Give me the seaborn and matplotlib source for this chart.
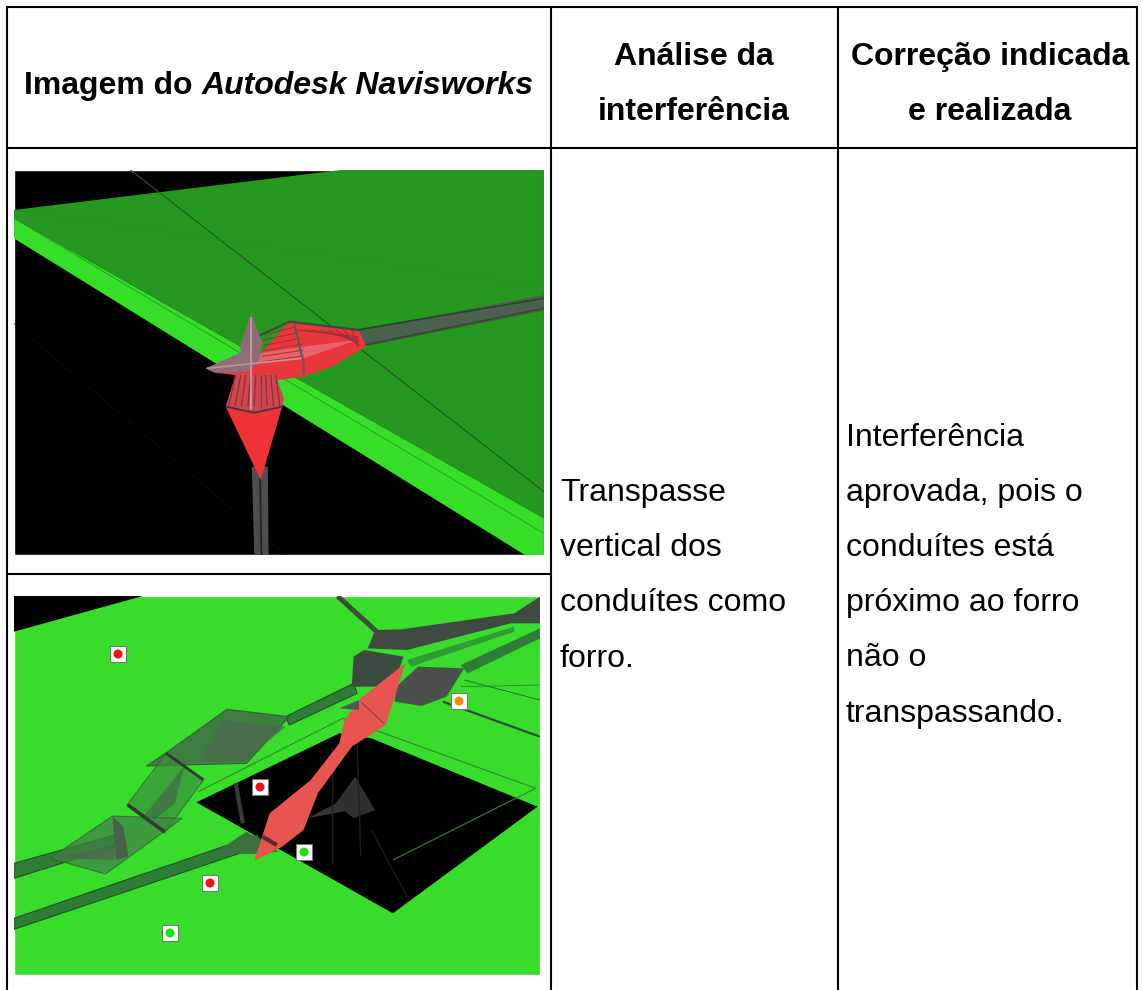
import numpy as np
import pandas as pd
import seaborn as sns
import matplotlib.pyplot as plt
from matplotlib.patches import Polygon, Rectangle

# textos da tabela
head_1 = ["Imagem do ", "Autodesk Navisworks"]
head_2 = ["Análise da", "interferência"]
head_3 = ["Correção indicada", "e realizada"]
col_2 = ["Transpasse", "vertical dos", "conduítes como", "forro."]
col_3 = ["Interferência", "aprovada, pois o", "conduítes está", "próximo ao forro", "não o", "transpassando."]

# marcadores da segunda imagem (pixels)
mark_x = [118, 260, 459, 304, 210, 170]
mark_y = [654, 787, 701, 852, 883, 933]
mark_cor = ["#f01010", "#f01010", "#f58a10", "#18e018", "#f01010", "#18e018"]

sns.set_theme(style="white")
plt.rcParams['font.family'] = ['Liberation Sans', 'DejaVu Sans']

fig = plt.figure(figsize=(11.43, 9.90), dpi=100)
ax = fig.add_axes([0, 0, 1, 1])
ax.set_xlim(0, 1143)
ax.set_ylim(990, 0)
ax.axis('off')

BOX_1 = (14, 170, 530, 385)
BOX_2 = (14, 596, 526, 379)


def pol(pts, cor, y0, box, alpha=1, z=2, ec='none', lw=0):
    xy = [(p[0] / 2.8, p[1] / 3 + y0) for p in pts]
    p = Polygon(xy, closed=True, fc=cor, ec=ec, lw=lw, alpha=alpha, zorder=z)
    ax.add_patch(p)
    p.set_clip_path(Rectangle(box[:2], box[2], box[3], transform=ax.transData))


def lin(pts, cor, y0, box, lw=1, alpha=1, z=3):
    l, = ax.plot([p[0] / 2.8 for p in pts], [p[1] / 3 + y0 for p in pts], color=cor, lw=lw,
                 alpha=alpha, zorder=z, solid_capstyle='butt')
    l.set_clip_path(Rectangle(box[:2], box[2], box[3], transform=ax.transData))


# imagem 1
ax.add_patch(Rectangle(BOX_1[:2], BOX_1[2], BOX_1[3], fc='black', zorder=1))
Y1 = 150
pol([(39, 180), (955, 60), (1523, 60), (1523, 1105), (39, 205)], '#27981f', Y1, BOX_1)
pol([(39, 205), (1523, 1105), (1523, 1215), (1470, 1215), (39, 265)], '#36de2a', Y1, BOX_1)
lin([(365, 60), (1523, 1025)], '#1c5c1c', Y1, BOX_1, 0.8)
lin([(39, 180), (1523, 410)], '#249020', Y1, BOX_1, 0.6)
lin([(39, 205), (1523, 1150)], '#1f9a1b', Y1, BOX_1, 0.6)
lin([(39, 520), (800, 1215)], '#0c120c', Y1, BOX_1, 0.5)
pol([(1000, 540), (1523, 435), (1523, 482), (1020, 590)], '#4d5f4d', Y1, BOX_1)
lin([(1000, 540), (1523, 445)], '#1f4a22', Y1, BOX_1, 1.2)
lin([(1020, 585), (1523, 475)], '#2a4f2a', Y1, BOX_1, 1.2)
pol([(705, 950), (750, 950), (752, 1215), (712, 1215)], '#4c4f4f', Y1, BOX_1, z=3)
lin([(728, 960), (732, 1215)], '#222222', Y1, BOX_1, 1.2, z=4)
pol([(720, 625), (810, 515), (1005, 540), (1025, 590), (930, 650), (850, 680), (780, 690), (600, 668), (660, 650)],
    '#e8383e', Y1, BOX_1, z=4)
pol([(720, 610), (850, 590), (1000, 570), (850, 625), (720, 640)], '#e88088', Y1, BOX_1, alpha=0.6, z=4)
for xa, yb in zip(np.arange(830, 990, 22), [560, 565, 570, 575, 580, 585, 590, 590]):
    lin([(xa, 540), (1005, yb)], '#a03038', Y1, BOX_1, 0.7, z=5)
for ya, xb in zip(np.arange(555, 650, 16), [830, 835, 840, 845, 848, 850]):
    lin([(735, ya), (xb, 530 + (ya - 555) * 1.1)], '#a03038', Y1, BOX_1, 0.7, z=5)
lin([(825, 525), (850, 640), (850, 675)], '#555a55', Y1, BOX_1, 1.3, z=6)
lin([(720, 560), (810, 515), (1005, 540)], '#3c4a3c', Y1, BOX_1, 1.6, z=6)
pol([(632, 770), (660, 672), (770, 672), (795, 745), (790, 775), (712, 790)], '#d04650', Y1, BOX_1, z=5)
for xa, xb in zip(np.arange(660, 780, 14), np.arange(640, 800, 18)):
    lin([(xa, 675), (xb, 770)], '#8c3038', Y1, BOX_1, 0.9, z=6)
pol([(632, 770), (712, 788), (790, 770), (730, 990)], '#f03236', Y1, BOX_1, z=5)
lin([(632, 770), (712, 788), (790, 770)], '#403838', Y1, BOX_1, 1.3, z=6)
pol([(703, 490), (735, 580), (722, 645), (680, 645), (672, 590)], '#8d6b72', Y1, BOX_1, z=7)
pol([(575, 655), (680, 605), (725, 640), (690, 665), (600, 668)], '#8a7078', Y1, BOX_1, z=7)
lin([(703, 500), (703, 780)], '#c8a0a8', Y1, BOX_1, 1.2, z=8)
lin([(580, 655), (845, 625)], '#c89098', Y1, BOX_1, 1.2, z=8)

# imagem 2
ax.add_patch(Rectangle(BOX_2[:2], BOX_2[2], BOX_2[3], fc='#38dc2a', zorder=1))
Y2 = 570
pol([(39, 78), (400, 78), (39, 185)], 'black', Y2, BOX_2)
pol([(550, 697), (950, 490), (1040, 505), (1505, 710), (1100, 1030)], 'black', Y2, BOX_2)
verde = '#2f7c36'
pol([(39, 1045), (720, 795), (740, 825), (39, 1078)], verde, Y2, BOX_2, ec='#234f28', lw=0.8)
pol([(39, 880), (340, 790), (350, 820), (39, 925)], verde, Y2, BOX_2, ec='#234f28', lw=0.8)
pol([(800, 440), (990, 340), (1000, 370), (810, 465)], verde, Y2, BOX_2, ec='#234f28', lw=0.8)
pol([(1290, 285), (1512, 175), (1512, 205), (1310, 310)], verde, Y2, BOX_2)
pol([(1140, 270), (1440, 170), (1440, 185), (1150, 290)], '#2f9c36', Y2, BOX_2)
pol([(635, 418), (810, 440), (690, 580), (410, 588), (470, 545)], '#3d6f42', Y2, BOX_2, alpha=0.85, ec='#2c5a30', lw=0.8)
pol([(620, 450), (800, 470), (680, 575), (560, 575)], '#4d6a50', Y2, BOX_2, alpha=0.8)
pol([(465, 550), (570, 630), (460, 790), (355, 705)], '#3c8d40', Y2, BOX_2, alpha=0.7, ec='#2c5a30', lw=0.7)
pol([(515, 590), (490, 700), (430, 750), (405, 735)], '#3f7448', Y2, BOX_2, alpha=0.85)
pol([(315, 738), (510, 745), (350, 870), (295, 912), (140, 865)], '#3f8444', Y2, BOX_2, alpha=0.75, ec='#2c5a30', lw=0.7)
pol([(315, 738), (345, 770), (360, 860), (325, 870)], '#4a5c4c', Y2, BOX_2, alpha=0.9)
pol([(140, 865), (330, 825), (320, 870)], '#4a6a4c', Y2, BOX_2, alpha=0.8)
lin([(465, 550), (570, 630)], '#2c3c30', Y2, BOX_2, 2)
lin([(358, 705), (460, 785)], '#2c3c30', Y2, BOX_2, 2.6)
lin([(555, 665), (960, 445), (1500, 655), (1100, 870)], '#2b8a2a', Y2, BOX_2, 0.8)
lin([(1240, 395), (1512, 500)], '#2f5030', Y2, BOX_2, 1.6)
lin([(1300, 330), (1512, 390)], '#2f6a30', Y2, BOX_2, 0.7)
lin([(1290, 350), (1512, 345)], '#2f8a30', Y2, BOX_2, 0.7)
lin([(945, 78), (1055, 185)], '#3d4a40', Y2, BOX_2, 3.5)
pol([(1050, 180), (1125, 178), (1440, 130), (1512, 80), (1512, 160), (1430, 160), (1140, 240), (1030, 235)], '#3f4a42', Y2, BOX_2)
pol([(990, 260), (1020, 240), (1130, 260), (1100, 350), (985, 350)], '#3c4a40', Y2, BOX_2)
pol([(1110, 350), (1170, 290), (1300, 295), (1250, 380), (1180, 408), (1105, 395)], '#4b504d', Y2, BOX_2)
lin([(660, 640), (680, 760)], '#3a3a3a', Y2, BOX_2, 3)
pol([(860, 745), (960, 690), (1040, 700), (960, 725)], '#333533', Y2, BOX_2, z=2)
pol([(995, 620), (1050, 720), (990, 745), (940, 700)], '#303030', Y2, BOX_2, z=2)
lin([(930, 530), (930, 880)], '#222222', Y2, BOX_2, 1)
lin([(1000, 520), (1010, 860)], '#1e1e1e', Y2, BOX_2, 1)
lin([(1040, 780), (1140, 980)], '#222222', Y2, BOX_2, 0.7)
pol([(600, 850), (690, 785), (780, 845), (720, 852)], '#3b7040', Y2, BOX_2, z=3)
pol([(1135, 280), (1080, 465), (985, 530), (890, 670), (850, 780), (790, 830), (712, 872), (755, 730), (870, 630), (950, 520), (965, 450), (1010, 385)],
    '#e85450', Y2, BOX_2, z=5)
pol([(950, 415), (1005, 390), (1005, 420)], '#505a50', Y2, BOX_2, z=6)
lin([(1010, 395), (1075, 460)], '#8a4040', Y2, BOX_2, 0.8, z=6)
lin([(735, 800), (775, 825)], '#5a2a2a', Y2, BOX_2, 3, z=6)

# marcadores
df_mark = pd.DataFrame({'x': mark_x, 'y': mark_y, 'cor': mark_cor})
sns.scatterplot(data=df_mark, x='x', y='y', ax=ax, marker='s', s=117, color='white', edgecolor='#777777',
                linewidth=0.8, zorder=9, legend=False)
sns.scatterplot(data=df_mark, x='x', y='y', ax=ax, hue='cor', palette={c: c for c in mark_cor}, marker='o', s=42,
                linewidth=0, zorder=10, legend=False)
ax.set_xlabel('')
ax.set_ylabel('')
ax.set_xlim(0, 1143)
ax.set_ylim(990, 0)

# grade da tabela
LW = 1.5
for x_ in [7, 551, 838, 1137]:
    ax.plot([x_, x_], [7, 990], color='black', lw=LW, zorder=12)
ax.plot([7, 1137], [7, 7], color='black', lw=LW, zorder=12)
ax.plot([7, 1137], [148, 148], color='black', lw=LW, zorder=12)
ax.plot([7, 551], [574, 574], color='black', lw=LW, zorder=12)

# textos
FS = 23
t = ax.text(24, 86, head_1[0], fontsize=FS, fontweight='bold', color='black', va='center', ha='left')
fig.canvas.draw()
bb = t.get_window_extent()
ax.text(24 + bb.width, 86, head_1[1], fontsize=FS, fontweight='bold', style='italic', color='black', va='center', ha='left')
for txt, y_ in zip(head_2, [57, 112]):
    ax.text(694, y_, txt, fontsize=FS, fontweight='bold', color='black', va='center', ha='center')
for txt, y_ in zip(head_3, [57, 112]):
    ax.text(990, y_, txt, fontsize=FS, fontweight='bold', color='black', va='center', ha='center')
for txt, y_ in zip(col_2, [493, 548, 603, 659]):
    ax.text(560, y_, txt, fontsize=FS, color='black', va='center', ha='left')
for txt, y_ in zip(col_3, [438, 493, 548, 603, 658, 714]):
    ax.text(846, y_, txt, fontsize=FS, color='black', va='center', ha='left')

plt.savefig('out.png', dpi=100)
